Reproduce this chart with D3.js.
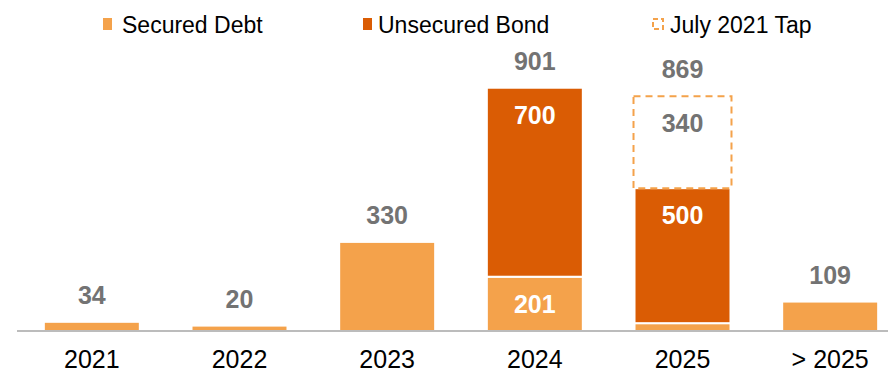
<!DOCTYPE html>
<html lang="en">
<head>
<meta charset="UTF-8">
<title>Debt maturity profile</title>
<script src="https://d3js.org/d3.v7.min.js"></script>
<style>
  body { margin: 0; background: #fff; }
  text { font-family: Arial, "Liberation Sans", sans-serif; }
</style>
</head>
<body>
<script>

  // data
  var years = ["2021", "2022", "2023", "2024", "2025", "> 2025"];
  var securedDebt = [34, 20, 330, 201, 29, 109];
  var unsecuredBond = [0, 0, 0, 700, 500, 0];
  var julyTap = [0, 0, 0, 0, 340, 0];
  var seriesNames = ["Secured Debt", "Unsecured Bond", "July 2021 Tap"];

  var width = 888, height = 374;
  var baseline = 331;

  var colSecured = "#F4A24B", colUnsecured = "#DA5C04", colLabel = "#737373";

  var svg = d3.select("body").append("svg")
      .attr("width", width)
      .attr("height", height);

  var data = years.map(function(y, i) {
    return { year: y, secured: securedDebt[i], unsecured: unsecuredBond[i], tap: julyTap[i] };
  });
  var keys = ["secured", "unsecured", "tap"];
  var stacked = d3.stack().keys(keys)(data);

  var x = d3.scaleBand()
      .domain(years)
      .range([18, 904])
      .paddingInner(0.35)
      .paddingOuter(0.175);

  var y = d3.scaleLinear()
      .domain([0, 1000])
      .range([baseline, baseline - 270]);

  // bars
  var layer = svg.append("g").selectAll("g")
    .data(stacked)
    .enter().append("g");

  layer.selectAll("rect")
    .data(function(d) { return d.map(function(p) { p.key = d.key; return p; }); })
    .enter().filter(function(d) { return d[1] - d[0] > 0; })
    .append("rect")
      .attr("x", function(d) { return d.key === "tap" ? x(d.data.year) - 1 : x(d.data.year); })
      .attr("width", function(d) { return d.key === "tap" ? x.bandwidth() + 2 : x.bandwidth(); })
      .attr("y", function(d) { return y(d[1]); })
      .attr("height", function(d) { return y(d[0]) - y(d[1]); })
      .attr("fill", function(d) {
        if (d.key === "secured") return colSecured;
        if (d.key === "unsecured") return colUnsecured;
        return "none";
      })
      .attr("stroke", function(d) { return d.key === "tap" ? colSecured : "#fff"; })
      .attr("stroke-width", 2)
      .attr("stroke-dasharray", function(d) { return d.key === "tap" ? "7,5" : null; });

  // axis line
  svg.append("line")
      .attr("x1", 17).attr("x2", width)
      .attr("y1", baseline).attr("y2", baseline)
      .attr("stroke", "#A6A6A6").attr("stroke-width", 1.5);

  var xAxis = svg.append("g")
      .attr("transform", "translate(0," + baseline + ")")
      .call(d3.axisBottom(x).tickSize(0).tickPadding(19));
  xAxis.select(".domain").remove();
  xAxis.selectAll("text")
      .attr("font-size", 25)
      .attr("fill", "#000")
      .style("font-family", "Arial, 'Liberation Sans', sans-serif");

  // inside labels (segments big enough)
  var cx = function(d) { return x(d.data.year) + x.bandwidth() / 2; };
  layer.selectAll("text.inner")
    .data(function(d) { return d; })
    .enter().filter(function(d) { return d.data.unsecured > 0 && (d[1] - d[0]) > 100; })
    .append("text")
      .attr("class", "inner")
      .attr("x", cx)
      .attr("y", function(d) { return y(d[1]) + 36; })
      .attr("text-anchor", "middle")
      .attr("font-size", 25)
      .attr("font-weight", "bold")
      .attr("fill", function(d) { return d.key === "tap" ? colLabel : "#fff"; })
      .text(function(d) { return d[1] - d[0]; });

  // totals above bars
  svg.append("g").selectAll("text")
    .data(data)
    .enter().append("text")
      .attr("x", function(d) { return x(d.year) + x.bandwidth() / 2; })
      .attr("y", function(d) { return y(d.secured + d.unsecured + d.tap) - 18; })
      .attr("text-anchor", "middle")
      .attr("font-size", 25)
      .attr("font-weight", "bold")
      .attr("fill", colLabel)
      .text(function(d) { return d.secured + d.unsecured + d.tap; });

  // legend
  var legendX = [103, 363, 652];
  var textX = [122, 378, 670];
  var legend = svg.append("g").selectAll("g")
    .data(seriesNames)
    .enter().append("g");

  legend.append("rect")
      .attr("x", function(d, i) { return i === 2 ? legendX[i] + 1 : legendX[i]; })
      .attr("y", function(d, i) { return i === 2 ? 19 : 18; })
      .attr("width", function(d, i) { return i === 2 ? 10 : 9; })
      .attr("height", function(d, i) { return i === 2 ? 10 : 12; })
      .attr("fill", function(d, i) { return i === 0 ? colSecured : (i === 1 ? colUnsecured : "none"); })
      .attr("stroke", function(d, i) { return i === 2 ? colSecured : "none"; })
      .attr("stroke-width", 2)
      .attr("stroke-dasharray", function(d, i) { return i === 2 ? "5,3" : null; });

  legend.append("text")
      .attr("x", function(d, i) { return textX[i]; })
      .attr("y", 33)
      .attr("font-size", 23)
      .attr("fill", "#000")
      .text(function(d) { return d; });

</script>
</body>
</html>
